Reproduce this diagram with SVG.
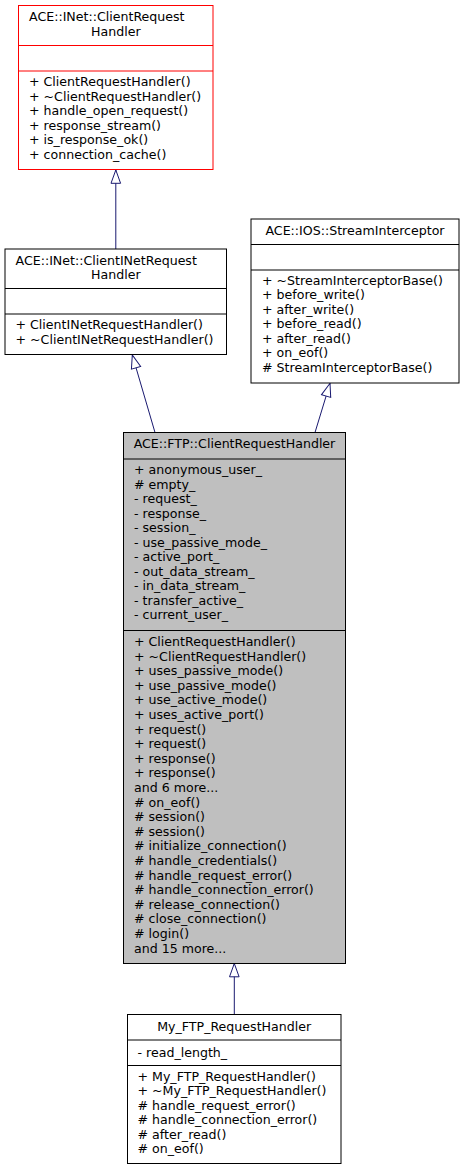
<svg xmlns="http://www.w3.org/2000/svg" width="464" height="1171" viewBox="0 0 464 1171">
<style>
text{font-family:"DejaVu Sans","Liberation Sans",sans-serif;font-size:12.6px;fill:#000}
.c{text-anchor:middle}
.box{fill:#fff;stroke:#000;stroke-width:1}
.red{fill:#fff;stroke:#ff0000;stroke-width:1}
.grey{fill:#bfbfbf;stroke:#000;stroke-width:1}
.sep{stroke:#000;stroke-width:1}
.sepr{stroke:#ff0000;stroke-width:1}
.edge{fill:none;stroke:#191970;stroke-width:1;marker-end:url(#inh)}
</style>
<defs>
<marker id="inh" viewBox="-1 -6 16 12" refX="13.3" refY="0" markerWidth="16" markerHeight="12" markerUnits="userSpaceOnUse" orient="auto">
<path d="M0,-4.8 L13.3,0 L0,4.8 Z" fill="#fff" stroke="#191970" stroke-width="1"/>
</marker>
</defs>
<g id="connectors">
<path class="edge" d="M115.8,249 L115.8,170"/>
<path class="edge" d="M155,432.5 L132.3,355"/>
<path class="edge" d="M315,432.5 L330,383.3"/>
<path class="edge" d="M234.3,1014.5 L234.3,963.5"/>
</g>
<g id="node_ClientRequestHandler">
<rect class="red" x="18.5" y="5.5" width="194.5" height="164"/>
<line class="sepr" x1="18.5" y1="45.5" x2="213" y2="45.5"/>
<line class="sepr" x1="18.5" y1="71" x2="213" y2="71"/>
<text x="29" y="21">ACE::INet::ClientRequest</text>
<text class="c" x="115.8" y="35.5">Handler</text>
<text x="29" y="86">+ ClientRequestHandler()</text>
<text x="29" y="100.5">+ ~ClientRequestHandler()</text>
<text x="29" y="115">+ handle_open_request()</text>
<text x="29" y="129.5">+ response_stream()</text>
<text x="29" y="144">+ is_response_ok()</text>
<text x="29" y="158.5">+ connection_cache()</text>
</g>
<g id="node_ClientINetRequestHandler">
<rect class="box" x="5" y="249" width="221.5" height="105.5"/>
<line class="sep" x1="5" y1="288.5" x2="226.5" y2="288.5"/>
<line class="sep" x1="5" y1="314" x2="226.5" y2="314"/>
<text x="15.5" y="264.5">ACE::INet::ClientINetRequest</text>
<text class="c" x="115.8" y="279">Handler</text>
<text x="15.5" y="329">+ ClientINetRequestHandler()</text>
<text x="15.5" y="343.5">+ ~ClientINetRequestHandler()</text>
</g>
<g id="node_StreamInterceptor">
<rect class="box" x="251" y="219" width="208" height="164"/>
<line class="sep" x1="251" y1="244.5" x2="459" y2="244.5"/>
<line class="sep" x1="251" y1="270" x2="459" y2="270"/>
<text class="c" x="355" y="234.5">ACE::IOS::StreamInterceptor</text>
<text x="262" y="284.5">+ ~StreamInterceptorBase()</text>
<text x="262" y="299">+ before_write()</text>
<text x="262" y="313.5">+ after_write()</text>
<text x="262" y="328">+ before_read()</text>
<text x="262" y="342.5">+ after_read()</text>
<text x="262" y="357">+ on_eof()</text>
<text x="262" y="371.5"># StreamInterceptorBase()</text>
</g>
<g id="node_FTP_ClientRequestHandler">
<rect class="grey" x="123.5" y="432.5" width="222" height="531"/>
<line class="sep" x1="123.5" y1="459" x2="345.5" y2="459"/>
<line class="sep" x1="123.5" y1="630.5" x2="345.5" y2="630.5"/>
<text class="c" x="234.5" y="447.5">ACE::FTP::ClientRequestHandler</text>
<text x="134" y="474">+ anonymous_user_</text>
<text x="134" y="488.5"># empty_</text>
<text x="134" y="503">- request_</text>
<text x="134" y="517.5">- response_</text>
<text x="134" y="532">- session_</text>
<text x="134" y="546.5">- use_passive_mode_</text>
<text x="134" y="561">- active_port_</text>
<text x="134" y="575.5">- out_data_stream_</text>
<text x="134" y="590">- in_data_stream_</text>
<text x="134" y="604.5">- transfer_active_</text>
<text x="134" y="619">- current_user_</text>
<text x="134" y="646">+ ClientRequestHandler()</text>
<text x="134" y="660.6">+ ~ClientRequestHandler()</text>
<text x="134" y="675.2">+ uses_passive_mode()</text>
<text x="134" y="689.8">+ use_passive_mode()</text>
<text x="134" y="704.4">+ use_active_mode()</text>
<text x="134" y="719">+ uses_active_port()</text>
<text x="134" y="733.6">+ request()</text>
<text x="134" y="748.2">+ request()</text>
<text x="134" y="762.8">+ response()</text>
<text x="134" y="777.4">+ response()</text>
<text x="134" y="792">and 6 more...</text>
<text x="134" y="806.6"># on_eof()</text>
<text x="134" y="821.2"># session()</text>
<text x="134" y="835.8"># session()</text>
<text x="134" y="850.4"># initialize_connection()</text>
<text x="134" y="865"># handle_credentials()</text>
<text x="134" y="879.6"># handle_request_error()</text>
<text x="134" y="894.2"># handle_connection_error()</text>
<text x="134" y="908.8"># release_connection()</text>
<text x="134" y="923.4"># close_connection()</text>
<text x="134" y="938"># login()</text>
<text x="134" y="952.6">and 15 more...</text>
</g>
<g id="node_My_FTP_RequestHandler">
<rect class="box" x="127.5" y="1014.5" width="213.5" height="149"/>
<line class="sep" x1="127.5" y1="1040" x2="341" y2="1040"/>
<line class="sep" x1="127.5" y1="1065.5" x2="341" y2="1065.5"/>
<text class="c" x="234.2" y="1031">My_FTP_RequestHandler</text>
<text x="137.5" y="1056.5">- read_length_</text>
<text x="137.5" y="1080.5">+ My_FTP_RequestHandler()</text>
<text x="137.5" y="1095">+ ~My_FTP_RequestHandler()</text>
<text x="137.5" y="1109.6"># handle_request_error()</text>
<text x="137.5" y="1124.2"># handle_connection_error()</text>
<text x="137.5" y="1138.8"># after_read()</text>
<text x="137.5" y="1153.4"># on_eof()</text>
</g>
</svg>
